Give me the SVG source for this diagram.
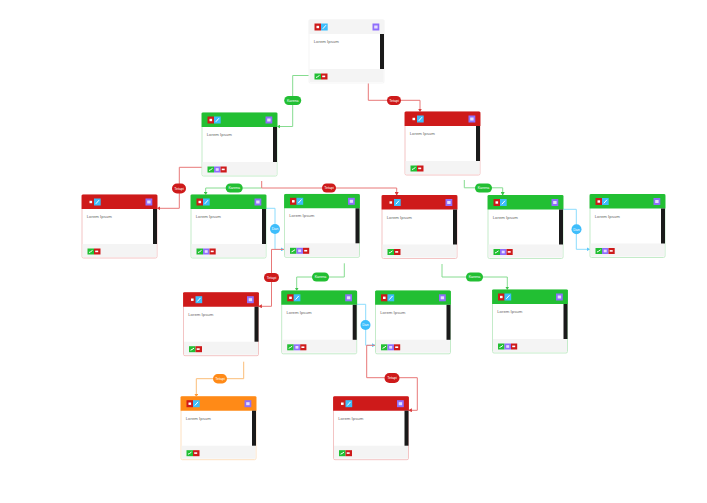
<svg xmlns="http://www.w3.org/2000/svg" width="707" height="503" viewBox="0 0 707 503">
<style>
text{font-family:"Liberation Sans",Arial,sans-serif}
.t{font-size:4.3px;fill:#666}
.l{font-size:3.6px;fill:#fff;text-anchor:middle}
.bg{fill:#fff}
.ft{fill:#f4f4f4}
.bar{fill:#1a1a1a}
.o{fill:none;stroke-width:1;stroke:var(--o)}
.h{fill:var(--h)}
.g{--o:#c4ebc9;--h:#22bf33}
.r{--o:#f3c4c4;--h:#ce1a1a}
.a{--o:#fde0c0;--h:#ff8a17}
.n{--o:#f5f5f5;--h:#f4f4f4}
.e{fill:none;stroke-width:1}
.eg{stroke:#86dc90}.er{stroke:#e87878}.ea{stroke:#fbbd78}.eb{stroke:#8cdcfd}
.pg{fill:#22bf33}.pr{fill:#ce1a1a}.pa{fill:#ff8a17}.pb{fill:#3dbdfb}
.i{fill:none;stroke:#fff;stroke-width:1}
</style>
<defs>
<marker id="mg" markerWidth="4" markerHeight="4" refX="3.4" refY="2" orient="auto" markerUnits="userSpaceOnUse"><path d="M0 0L3.5 2L0 4z" fill="#3cc64b"/></marker>
<marker id="mr" markerWidth="4" markerHeight="4" refX="3.4" refY="2" orient="auto" markerUnits="userSpaceOnUse"><path d="M0 0L3.5 2L0 4z" fill="#d93a3a"/></marker>
<marker id="ma" markerWidth="4" markerHeight="4" refX="3.4" refY="2" orient="auto" markerUnits="userSpaceOnUse"><path d="M0 0L3.5 2L0 4z" fill="#ff9a36"/></marker>
<marker id="mb" markerWidth="4" markerHeight="4" refX="3.4" refY="2" orient="auto" markerUnits="userSpaceOnUse"><path d="M0 0L3.5 2L0 4z" fill="#5cc8fb"/></marker>
<g id="base">
<rect class="bg" width="75" height="63" rx="1.5"/>
<rect class="o" width="75" height="63" rx="1.5"/>
<path class="h" d="M-.4 14V1.5A1.5 1.5 0 0 1 1.1 -.4H73.9A1.5 1.5 0 0 1 75.4 1.5V14z"/>
<path class="ft" d="M.5 49H74.5V62H.5z"/>
<rect class="bar" x="71" y="14" width="4" height="35"/>
<rect x="5.5" y="3.5" width="6.5" height="7" fill="#ce1a1a"/>
<rect x="7.5" y="5.8" width="2.6" height="2.4" fill="#fff"/>
<rect x="12" y="3.5" width="6.7" height="7" fill="#3dbdfb"/>
<path class="i" d="M13.8 8.8L17 5.2"/>
<rect x="63.5" y="3.5" width="6.8" height="7" fill="#8f6ffb"/>
<rect x="65.2" y="5.5" width="3.4" height="3" fill="#e6defd"/>
<rect x="5.5" y="53.5" width="6.5" height="6" fill="#22bf33"/>
<path class="i" d="M7 57.5L8.5 56.8L10.5 55.4"/>
</g>
<g id="f2"><rect x="12" y="53.5" width="6.5" height="6" fill="#ce1a1a"/><rect x="13.2" y="55.6" width="3" height="1.6" fill="#fff"/></g>
<g id="f3"><rect x="12" y="53.5" width="6.5" height="6" fill="#8f6ffb"/><rect x="13.7" y="55.2" width="3" height="2.6" fill="#e6defd"/><rect x="18.5" y="53.5" width="6.2" height="6" fill="#ce1a1a"/><rect x="19.7" y="55.6" width="3" height="1.6" fill="#fff"/></g>
</defs>

<g id="connectors">
<path class="e eg" marker-end="url(#mg)" d="M309 75.5H292.7V126.5H277"/>
<path class="e er" marker-end="url(#mr)" d="M368.3 83V100.3H420V112"/>
<path class="e eg" marker-end="url(#mg)" d="M261.7 188H205.7V195"/>
<path class="e er" marker-end="url(#mr)" d="M261.7 181V188H396.7V195.5"/>
<path class="e er" marker-end="url(#mr)" d="M202 167.3H179.3V208.3H157"/>
<path class="e eg" marker-end="url(#mg)" d="M464.3 180V187.8H502.7V195.5"/>
<path class="e eb" marker-end="url(#mb)" d="M265.7 208.3H275V249.4H284.3"/>
<path class="e er" marker-end="url(#mr)" d="M284.3 249.4H271.5V306.3H258.5"/>
<path class="e eg" marker-end="url(#mg)" d="M344.3 263.3V277H296.7V291"/>
<path class="e eg" marker-end="url(#mg)" d="M442 264V277H507.3V290"/>
<path class="e eb" marker-end="url(#mb)" d="M562.7 209.3H576.3V249.3H590"/>
<path class="e eb" marker-end="url(#mb)" d="M356.7 304.3H365.7V345.3H375.3"/>
<path class="e er" marker-end="url(#mr)" d="M375.3 345.3H366.7V377.7H417.3V410.3H408.5"/>
<path class="e ea" marker-end="url(#ma)" d="M243.7 361.7V378.7H196.3V397"/>
<g><rect class="pg" x="284.2" y="96" width="17" height="9" rx="4.5"/><text class="l" x="292.7" y="101.6">Karena</text></g>
<g><rect class="pr" x="387" y="96" width="14" height="9" rx="4.5"/><text class="l" x="394" y="101.6">Tetapi</text></g>
<g><rect class="pg" x="225.7" y="183.5" width="17" height="9" rx="4.5"/><text class="l" x="234.2" y="189.1">Karena</text></g>
<g><rect class="pr" x="322" y="183.5" width="14" height="9" rx="4.5"/><text class="l" x="329" y="189.1">Tetapi</text></g>
<g><rect class="pr" x="172" y="183.5" width="14" height="10" rx="5"/><text class="l" x="179" y="189.6">Tetapi</text></g>
<g><rect class="pg" x="475" y="183.5" width="17" height="9" rx="4.5"/><text class="l" x="483.5" y="189.1">Karena</text></g>
<g><circle class="pb" cx="275" cy="229" r="5"/><text class="l" x="275" y="230.2">Dan</text></g>
<g><circle class="pb" cx="576.5" cy="229.3" r="5"/><text class="l" x="576.5" y="230.5">Dan</text></g>
<g><circle class="pb" cx="365.5" cy="325" r="5"/><text class="l" x="365.5" y="326.2">Dan</text></g>
<g><rect class="pr" x="264" y="273" width="15" height="9" rx="4.5"/><text class="l" x="271.5" y="278.6">Tetapi</text></g>
<g><rect class="pg" x="312" y="272.5" width="17" height="9" rx="4.5"/><text class="l" x="320.5" y="278.1">Karena</text></g>
<g><rect class="pg" x="466" y="272.5" width="17" height="9" rx="4.5"/><text class="l" x="474.5" y="278.1">Karena</text></g>
<g><rect class="pr" x="384.5" y="373" width="15" height="10" rx="5"/><text class="l" x="392" y="379.1">Tetapi</text></g>
<g><rect class="pa" x="213" y="374" width="14" height="9.5" rx="4.7"/><text class="l" x="220" y="379.8">Tetapi</text></g>
</g>

<g id="n1" class="n" transform="translate(309 20)"><use href="#base"/><use href="#f2"/><text class="t" x="4.7" y="23">Lorem Ipsum</text></g>
<g id="n2" class="g" transform="translate(202 113)"><use href="#base"/><use href="#f3"/><text class="t" x="4.7" y="23">Lorem Ipsum</text></g>
<g id="n3" class="r" transform="translate(405 112)"><use href="#base"/><use href="#f2"/><text class="t" x="4.7" y="23">Lorem Ipsum</text></g>
<g id="n4" class="r" transform="translate(82 195)"><use href="#base"/><use href="#f2"/><text class="t" x="4.7" y="23">Lorem Ipsum</text></g>
<g id="n5" class="g" transform="translate(191 195)"><use href="#base"/><use href="#f3"/><text class="t" x="4.7" y="23">Lorem Ipsum</text></g>
<g id="n6" class="g" transform="translate(284.5 194.3)"><use href="#base"/><use href="#f3"/><text class="t" x="4.7" y="23">Lorem Ipsum</text></g>
<g id="n7" class="r" transform="translate(382 195.5)"><use href="#base"/><use href="#f2"/><text class="t" x="4.7" y="23">Lorem Ipsum</text></g>
<g id="n8" class="g" transform="translate(488 195.5)"><use href="#base"/><use href="#f3"/><text class="t" x="4.7" y="23">Lorem Ipsum</text></g>
<g id="n9" class="g" transform="translate(590 194.5)"><use href="#base"/><use href="#f3"/><text class="t" x="4.7" y="23">Lorem Ipsum</text></g>
<g id="n10" class="r" transform="translate(183.5 292.7)"><use href="#base"/><use href="#f2"/><text class="t" x="4.7" y="23">Lorem Ipsum</text></g>
<g id="n11" class="g" transform="translate(281.7 290.8)"><use href="#base"/><use href="#f3"/><text class="t" x="4.7" y="23">Lorem Ipsum</text></g>
<g id="n12" class="g" transform="translate(375.5 290.8)"><use href="#base"/><use href="#f3"/><text class="t" x="4.7" y="23">Lorem Ipsum</text></g>
<g id="n13" class="g" transform="translate(492.5 290)"><use href="#base"/><use href="#f3"/><text class="t" x="4.7" y="23">Lorem Ipsum</text></g>
<g id="n14" class="a" transform="translate(181 396.7)"><use href="#base"/><use href="#f2"/><text class="t" x="4.7" y="23">Lorem Ipsum</text></g>
<g id="n15" class="r" transform="translate(333.5 396.7)"><use href="#base"/><use href="#f2"/><text class="t" x="4.7" y="23">Lorem Ipsum</text></g>
</svg>
